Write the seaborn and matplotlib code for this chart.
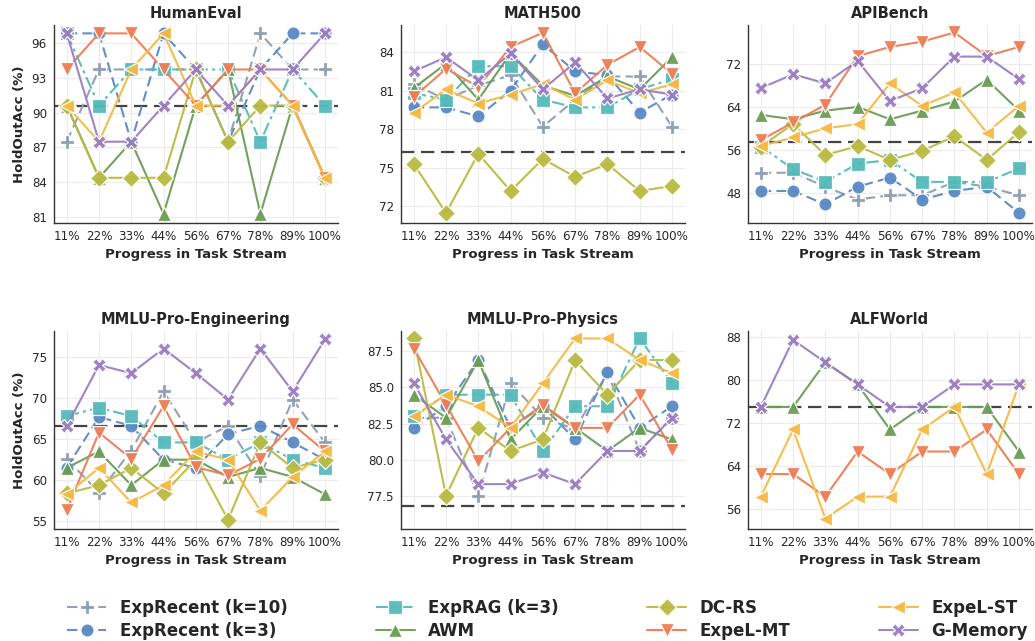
import matplotlib
matplotlib.use("Agg")
import matplotlib.pyplot as plt
import seaborn as sns
import pandas as pd
from matplotlib.ticker import FormatStrFormatter

progress = ["11%", "22%", "33%", "44%", "56%", "67%", "78%", "89%", "100%"]
methods = ["ExpRecent (k=10)", "ExpRecent (k=3)", "ExpRAG (k=3)", "AWM",
           "DC-RS", "ExpeL-MT", "ExpeL-ST", "G-Memory"]

# HumanEval
he_k10 = [87.5, 93.75, 93.75, 93.75, 93.75, 87.5, 96.875, 93.75, 93.75]
he_k3 = [96.875, 96.875, 87.5, 96.875, 93.75, 87.5, 93.75, 96.875, 96.875]
he_rag = [96.875, 90.625, 93.75, 93.75, 93.75, 93.75, 87.5, 93.75, 90.625]
he_awm = [90.625, 84.375, 87.5, 81.25, 90.625, 93.75, 81.25, 90.625, 84.375]
he_dcrs = [90.625, 84.375, 84.375, 84.375, 93.75, 87.5, 90.625, 90.625, 84.375]
he_mt = [93.75, 96.875, 96.875, 93.75, 90.625, 93.75, 93.75, 90.625, 84.375]
he_st = [90.625, 87.5, 93.75, 96.875, 90.625, 90.625, 93.75, 90.625, 84.375]
he_gm = [96.875, 87.5, 87.5, 90.625, 93.75, 90.625, 93.75, 93.75, 96.875]
he_base = 90.625

# MATH500
ma_k10 = [81.5, 80.3, 81.4, 82.2, 78.2, 80.3, 82.1, 82.1, 78.2]
ma_k3 = [79.7, 79.7, 79.0, 81.0, 84.6, 82.5, 82.2, 79.3, 80.7]
ma_rag = [80.8, 80.3, 82.9, 82.9, 80.3, 79.7, 79.7, 81.1, 81.9]
ma_awm = [81.2, 83.1, 80.3, 83.9, 81.4, 80.6, 82.1, 81.1, 83.6]
ma_dcrs = [75.3, 71.5, 76.1, 73.2, 75.7, 74.3, 75.3, 73.2, 73.6]
ma_mt = [80.5, 82.7, 81.3, 84.4, 85.5, 80.8, 83.0, 84.4, 82.3]
ma_st = [79.3, 81.1, 80.0, 80.7, 81.5, 80.3, 81.8, 80.8, 81.5]
ma_gm = [82.5, 83.6, 81.8, 83.9, 81.1, 83.2, 80.4, 81.1, 80.7]
ma_base = 76.2

# APIBench
ap_k10 = [51.7, 51.7, 49.1, 46.7, 47.5, 47.5, 50.0, 49.1, 47.5]
ap_k3 = [48.3, 48.3, 45.8, 49.1, 50.8, 46.7, 48.3, 49.1, 44.2]
ap_rag = [56.6, 52.4, 50.0, 53.4, 54.1, 50.0, 50.0, 50.0, 52.5]
ap_awm = [62.5, 61.7, 63.3, 64.0, 61.7, 63.3, 65.0, 69.1, 63.3]
ap_dcrs = [56.6, 60.8, 55.0, 56.7, 54.1, 55.8, 58.5, 54.1, 59.3]
ap_mt = [57.8, 61.1, 64.4, 73.5, 75.2, 76.2, 77.9, 73.5, 75.2]
ap_st = [56.7, 58.3, 60.0, 60.8, 68.4, 64.2, 66.7, 59.2, 64.2]
ap_gm = [67.5, 70.1, 68.4, 72.6, 65.1, 67.5, 73.4, 73.4, 69.2]
ap_base = 57.5

# MMLU-Pro-Engineering
en_k10 = [62.6, 58.5, 63.6, 70.8, 64.6, 66.6, 60.5, 69.8, 64.6]
en_k3 = [61.5, 67.7, 66.6, 62.5, 61.5, 65.6, 66.6, 64.6, 62.5]
en_rag = [67.8, 68.8, 67.8, 64.6, 64.6, 62.5, 64.6, 62.5, 61.5]
en_awm = [61.5, 63.5, 59.4, 62.5, 62.5, 60.4, 61.5, 60.4, 58.3]
en_dcrs = [58.4, 59.4, 61.5, 58.4, 62.5, 55.2, 64.6, 61.5, 62.5]
en_mt = [56.4, 65.8, 62.6, 69.0, 61.6, 60.6, 62.6, 66.8, 63.5]
en_st = [58.3, 61.5, 57.3, 59.4, 63.5, 62.5, 56.3, 60.4, 63.5]
en_gm = [66.6, 74.0, 73.0, 76.0, 73.0, 69.8, 76.0, 70.8, 77.1]
en_base = 66.6

# MMLU-Pro-Physics
ph_k10 = [82.9, 82.9, 77.5, 85.3, 82.9, 82.1, 86.0, 80.6, 82.9]
ph_k3 = [82.2, 83.7, 86.9, 82.2, 83.7, 81.4, 86.1, 82.2, 83.7]
ph_rag = [83.0, 84.5, 84.5, 84.5, 80.6, 83.7, 83.7, 88.4, 85.3]
ph_awm = [84.5, 82.9, 86.9, 81.4, 83.7, 82.2, 80.6, 82.2, 81.4]
ph_dcrs = [88.4, 77.5, 82.2, 80.6, 81.4, 86.9, 84.5, 86.9, 86.9]
ph_mt = [87.7, 83.8, 79.9, 82.2, 83.8, 82.2, 82.2, 84.5, 80.7]
ph_st = [83.0, 84.5, 83.7, 82.2, 85.3, 88.4, 88.4, 86.9, 86.0]
ph_gm = [85.3, 81.4, 78.3, 78.3, 79.1, 78.3, 80.6, 80.6, 82.9]
ph_base = 76.8

# ALFWorld (only four methods reported)
al_awm = [75.0, 75.0, 83.3, 79.2, 70.8, 75.0, 75.0, 75.0, 66.7]
al_mt = [62.5, 62.5, 58.3, 66.7, 62.5, 66.7, 66.7, 70.8, 62.5]
al_st = [58.3, 70.8, 54.2, 58.3, 58.3, 70.8, 75.0, 62.5, 79.2]
al_gm = [75.0, 87.5, 83.3, 79.2, 75.0, 75.0, 79.2, 79.2, 79.2]
al_base = 75.0

panels = [
    ("HumanEval", {"ExpRecent (k=10)": he_k10, "ExpRecent (k=3)": he_k3, "ExpRAG (k=3)": he_rag,
                   "AWM": he_awm, "DC-RS": he_dcrs, "ExpeL-MT": he_mt, "ExpeL-ST": he_st,
                   "G-Memory": he_gm}, he_base, [81, 84, 87, 90, 93, 96], (80.5, 97.6), "%d"),
    ("MATH500", {"ExpRecent (k=10)": ma_k10, "ExpRecent (k=3)": ma_k3, "ExpRAG (k=3)": ma_rag,
                 "AWM": ma_awm, "DC-RS": ma_dcrs, "ExpeL-MT": ma_mt, "ExpeL-ST": ma_st,
                 "G-Memory": ma_gm}, ma_base, [72, 75, 78, 81, 84], (70.75, 86.1), "%d"),
    ("APIBench", {"ExpRecent (k=10)": ap_k10, "ExpRecent (k=3)": ap_k3, "ExpRAG (k=3)": ap_rag,
                  "AWM": ap_awm, "DC-RS": ap_dcrs, "ExpeL-MT": ap_mt, "ExpeL-ST": ap_st,
                  "G-Memory": ap_gm}, ap_base, [48, 56, 64, 72], (42.4, 79.3), "%d"),
    ("MMLU-Pro-Engineering", {"ExpRecent (k=10)": en_k10, "ExpRecent (k=3)": en_k3,
                              "ExpRAG (k=3)": en_rag, "AWM": en_awm, "DC-RS": en_dcrs,
                              "ExpeL-MT": en_mt, "ExpeL-ST": en_st, "G-Memory": en_gm},
     en_base, [55, 60, 65, 70, 75], (54.1, 78.1), "%d"),
    ("MMLU-Pro-Physics", {"ExpRecent (k=10)": ph_k10, "ExpRecent (k=3)": ph_k3,
                          "ExpRAG (k=3)": ph_rag, "AWM": ph_awm, "DC-RS": ph_dcrs,
                          "ExpeL-MT": ph_mt, "ExpeL-ST": ph_st, "G-Memory": ph_gm},
     ph_base, [77.5, 80.0, 82.5, 85.0, 87.5], (75.2, 88.9), "%.1f"),
    ("ALFWorld", {"AWM": al_awm, "ExpeL-MT": al_mt, "ExpeL-ST": al_st, "G-Memory": al_gm},
     al_base, [56, 64, 72, 80, 88], (52.3, 89.1), "%d"),
]

colors = {
    "ExpRecent (k=10)": "#8d9db2",
    "ExpRecent (k=3)": "#5b89c4",
    "ExpRAG (k=3)": "#55baba",
    "AWM": "#6a9d55",
    "DC-RS": "#b9bb42",
    "ExpeL-MT": "#ee7d55",
    "ExpeL-ST": "#f6b943",
    "G-Memory": "#9a7dc3",
}
markers = {
    "ExpRecent (k=10)": "P", "ExpRecent (k=3)": "o", "ExpRAG (k=3)": "s", "AWM": "^",
    "DC-RS": "D", "ExpeL-MT": "v", "ExpeL-ST": "<", "G-Memory": "X",
}
lstyles = {
    "ExpRecent (k=10)": (0, (5, 2.5)), "ExpRecent (k=3)": (0, (5, 2.5)),
    "ExpRAG (k=3)": (0, (6, 2, 1.5, 2)), "AWM": "-", "DC-RS": "-",
    "ExpeL-MT": "-", "ExpeL-ST": "-", "G-Memory": "-",
}

sns.set_theme(style="whitegrid")
plt.rcParams["font.family"] = ["DejaVu Sans"]

fig, axes = plt.subplots(2, 3, figsize=(10.35, 6.41), dpi=100)
fig.subplots_adjust(left=0.052, right=0.997, top=0.961, bottom=0.175,
                    wspace=0.222, hspace=0.55)

handles = {}
for ax, (title, series, base, yticks, ylim, fmt) in zip(axes.flat, panels):
    for m in methods:
        if m not in series:
            continue
        df = pd.DataFrame({"progress": progress, "acc": series[m]})
        sns.lineplot(data=df, x="progress", y="acc", ax=ax, color=colors[m],
                     marker=markers[m], markersize=9.5, markeredgecolor="white",
                     markeredgewidth=0.9, linewidth=1.5, alpha=0.95, label=m,
                     sort=False)
        line = ax.get_lines()[-1]
        line.set_linestyle(lstyles[m])
        if m not in handles:
            handles[m] = line
    ax.axhline(base, color="#444444", linewidth=1.6, linestyle=(0, (6, 3)), zorder=1)
    ax.set_title(title, fontsize=10.5, fontweight="bold", pad=5)
    ax.set_xlim(-0.4, 8.4)
    ax.set_ylim(*ylim)
    ax.set_yticks(yticks)
    ax.yaxis.set_major_formatter(FormatStrFormatter(fmt))
    ax.set_xlabel("Progress in Task Stream", fontsize=9.5, fontweight="bold", labelpad=4)
    ax.set_ylabel("")
    ax.tick_params(axis="both", labelsize=8.6, length=3, width=0.8, color="#333333",
                   pad=2)
    ax.grid(True, color="#ececec", linewidth=0.8)
    sns.despine(ax=ax)
    for s in ["left", "bottom"]:
        ax.spines[s].set_color("#333333")
        ax.spines[s].set_linewidth(1.0)
    if ax.get_legend() is not None:
        ax.get_legend().remove()

for ax in axes[:, 0]:
    ax.set_ylabel("HoldOutAcc (%)", fontsize=9.5, fontweight="bold", labelpad=4)

fig.legend([handles[m] for m in methods], methods, loc="center",
           bbox_to_anchor=(0.529, 0.034), ncol=4, frameon=False,
           prop={"size": 12, "weight": "bold"}, columnspacing=5.3,
           handlelength=2.35, handletextpad=0.8, labelspacing=0.3)

fig.savefig("out.png", dpi=100)
